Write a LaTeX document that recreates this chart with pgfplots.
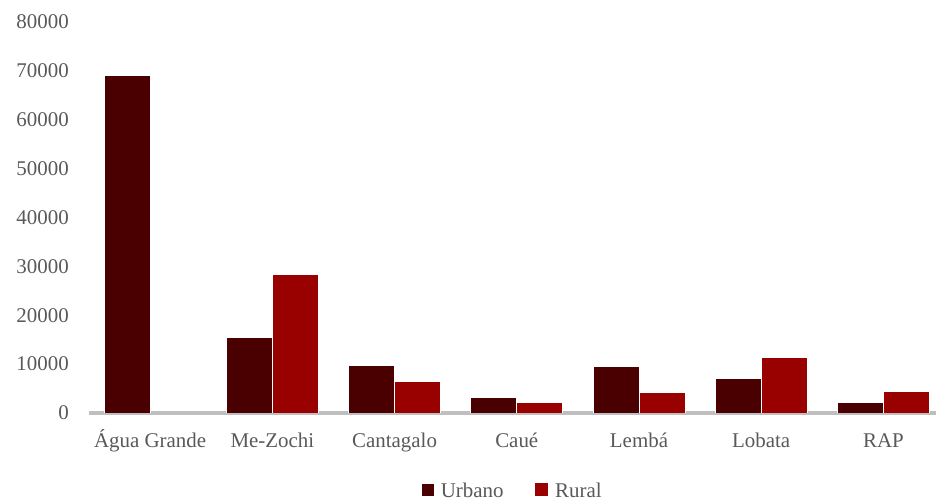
\documentclass[border=0pt]{standalone}
\usepackage{fontspec}
\setmainfont{Liberation Serif}
\usepackage{pgfplots}
\pgfplotsset{compat=1.18}
\definecolor{urb}{HTML}{4A0000}
\definecolor{rur}{HTML}{990000}
\definecolor{axgray}{HTML}{BFBFBF}
\definecolor{txt}{HTML}{595959}
\begin{document}
\begin{tikzpicture}
\useasboundingbox (0,0) rectangle (936bp,501bp);
\begin{axis}[
  at={(89bp,88bp)}, anchor=south west,
  scale only axis, width=847bp, height=391bp,
  ybar=0pt, bar width=46bp,
  xmin=-0.5, xmax=6.43, ymin=0, ymax=80000,
  xtick={0,...,6},
  xticklabels={Água Grande, Me-Zochi, Cantagalo, Caué, Lembá, Lobata, RAP},
  ytick={0,10000,...,80000},
  scaled y ticks=false,
  /pgf/number format/assume math mode=true,
  /pgf/number format/1000 sep={},
  axis x line*=bottom, axis y line*=left,
  y axis line style={draw=none},
  x axis line style={draw=axgray, line width=3.3bp},
  major tick length=0pt, tick style={draw=none},
  xticklabel style={anchor=base, yshift=-34bp, inner sep=0pt, font=\fontsize{21}{25}\selectfont, text=txt},
  yticklabel style={anchor=east, xshift=-20bp, inner sep=0pt, font=\fontsize{21}{25}\selectfont, text=txt},
  legend style={at={(0.5,-0.197)}, anchor=center, draw=none, legend columns=2,
    font=\fontsize{21}{25}\selectfont, text=txt, inner sep=0pt,
    nodes={inner sep=1bp, text depth=0pt},
    /tikz/every odd column/.append style={column sep=6bp},
    /tikz/every even column/.append style={column sep=30bp}},
]
\addplot[fill=urb, draw=white, line width=1bp,
  legend image code/.code={\fill[urb] (0bp,-5bp) rectangle (10.5bp,5.5bp);}]
  coordinates {(0,69000) (1,15500) (2,9700) (3,3070) (4,9530) (5,7010) (6,2100)};
\addplot[fill=rur, draw=white, line width=1bp,
  legend image code/.code={\fill[rur] (0bp,-5.5bp) rectangle (12.5bp,6.5bp);}]
  coordinates {(1,28300) (2,6540) (3,2100) (4,4290) (5,11370) (6,4360)};
\legend{Urbano, Rural}
\end{axis}
\end{tikzpicture}
\end{document}
